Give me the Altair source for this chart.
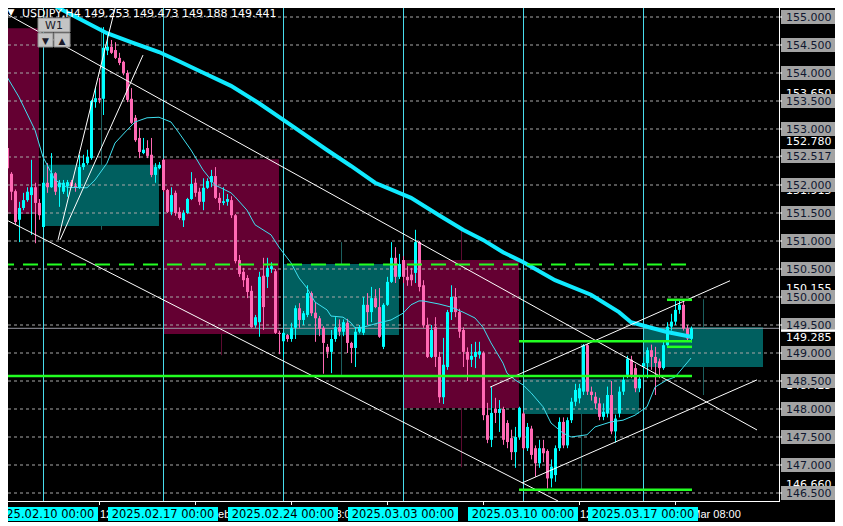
import altair as alt
import pandas as pd
import numpy as np

# ---------------- data (USDJPY H4) ----------------
bar_index = list(range(-10, 163))

open_ = [
    152.41, 152.66, 152.20, 151.89, 151.38, 151.59, 151.73, 151.82, 151.96, 151.68,   # -10..-1
    151.25, 152.04, 151.96, 152.21, 151.96, 151.88, 151.98, 152.05, 151.98, 151.96,   # 0..9
    152.32, 152.39, 152.48, 153.48, 153.55, 153.54, 154.40, 154.47, 154.41, 154.27,   # 10..19
    154.20, 154.00, 153.54, 153.20, 152.84, 152.57, 152.66, 152.54, 152.18, 152.30,   # 20..29
    152.45, 151.91, 151.52, 151.86, 151.52, 151.37, 151.50, 151.75, 152.04, 151.88,   # 30..39
    151.70, 151.95, 152.05, 152.16, 151.77, 151.68, 151.70, 151.73, 151.46, 150.66,   # 40..49
    150.45, 150.34, 150.11, 149.50, 149.55, 150.38, 150.36, 150.50, 150.46, 149.36,   # 50..59
    149.21, 149.32, 149.25, 149.45, 149.80, 149.59, 149.68, 150.07, 149.72, 149.62,   # 60..69
    149.45, 149.11, 149.02, 149.25, 149.46, 149.38, 149.54, 149.18, 149.09, 149.38,   # 70..79
    149.36, 149.86, 149.73, 149.98, 149.82, 149.11, 149.86, 150.27, 150.70, 150.36,   # 80..89
    150.66, 150.36, 150.40, 150.43, 150.98, 150.21, 149.50, 148.93, 149.46, 148.93,   # 90..99
    148.21, 148.75, 149.73, 150.00, 149.73, 149.41, 149.02, 148.88, 148.93, 148.97,   # 100..109
    149.00, 147.89, 147.45, 148.00, 147.93, 148.00, 147.75, 147.48, 147.23, 147.50,   # 110..119
    147.92, 147.30, 147.65, 147.30, 147.03, 147.30, 147.25, 146.76, 146.82, 147.30,   # 120..129
    147.77, 147.35, 147.80, 148.13, 148.19, 148.31, 149.14, 148.31, 148.22, 148.10,   # 130..139
    147.86, 147.92, 148.25, 147.60, 147.92, 148.31, 148.61, 148.88, 148.73, 148.37,   # 140..149
    148.76, 148.82, 149.05, 148.93, 148.85, 148.73, 149.14, 149.47, 149.56, 149.77,   # 150..159
    149.86, 149.44, 149.253,                                                           # 160..162
]
high = [
    152.89, 152.72, 152.23, 151.92, 151.70, 151.86, 151.96, 152.45, 152.04, 151.75,
    152.14, 152.39, 152.57, 152.23, 152.09, 152.09, 152.09, 152.09, 152.04, 152.54,
    152.54, 152.63, 153.52, 153.75, 153.91, 154.82, 154.68, 154.59, 154.55, 154.36,
    154.22, 154.05, 153.73, 153.25, 153.02, 152.84, 152.80, 152.84, 152.39, 152.41,
    152.47, 151.93, 151.96, 151.90, 151.60, 151.55, 151.77, 152.23, 152.12, 151.95,
    152.12, 152.12, 152.27, 152.32, 151.86, 151.96, 151.84, 151.80, 151.48, 150.75,
    150.52, 150.39, 150.20, 149.68, 150.45, 150.70, 150.70, 150.62, 150.50, 149.40,
    149.38, 149.34, 149.54, 149.85, 149.89, 149.75, 150.21, 150.10, 149.91, 149.66,
    149.48, 149.16, 149.41, 149.64, 149.60, 149.60, 149.61, 149.20, 149.46, 149.50,
    150.00, 150.07, 150.18, 150.14, 150.16, 149.89, 150.36, 150.98, 150.89, 150.77,
    150.73, 150.55, 150.52, 151.20, 151.00, 150.30, 149.63, 149.50, 149.64, 149.02,
    149.27, 149.77, 150.21, 150.16, 149.79, 149.46, 149.10, 149.16, 149.20, 149.20,
    149.03, 148.11, 148.39, 148.20, 148.16, 148.04, 147.80, 147.63, 147.68, 148.04,
    147.95, 147.75, 147.70, 147.35, 147.45, 147.45, 147.28, 147.10, 147.35, 147.85,
    147.85, 147.85, 148.20, 148.45, 148.45, 149.16, 149.16, 148.40, 148.30, 148.20,
    148.10, 148.40, 148.50, 147.90, 148.40, 148.60, 148.95, 148.95, 148.80, 148.60,
    148.93, 149.10, 149.15, 149.11, 148.90, 149.20, 149.55, 149.70, 149.93, 149.95,
    149.96, 149.50, 149.473,
]
low = [
    152.40, 152.25, 151.73, 151.29, 150.98, 151.55, 151.70, 151.11, 150.96, 151.38,
    151.23, 151.86, 151.95, 151.82, 151.61, 151.84, 151.79, 151.95, 151.88, 151.93,
    152.27, 152.36, 152.45, 153.38, 153.46, 153.25, 154.32, 154.34, 154.25, 154.14,
    153.96, 153.48, 153.09, 152.77, 152.48, 152.55, 152.48, 152.14, 152.04, 152.28,
    151.88, 151.50, 151.46, 151.45, 151.38, 151.25, 151.48, 151.73, 151.79, 151.64,
    151.55, 151.93, 151.96, 151.75, 151.55, 151.64, 151.63, 151.41, 150.60, 150.36,
    150.18, 149.98, 149.45, 149.45, 149.29, 149.41, 150.16, 150.43, 149.34, 148.98,
    148.93, 149.20, 149.20, 149.25, 149.45, 149.50, 149.64, 149.66, 149.20, 149.30,
    148.63, 148.91, 148.64, 149.20, 149.30, 149.30, 149.00, 148.82, 148.75, 149.35,
    149.32, 149.50, 149.55, 149.80, 149.27, 149.07, 149.84, 150.25, 150.25, 150.32,
    150.25, 150.20, 150.20, 150.25, 150.10, 149.45, 148.91, 148.91, 148.75, 148.11,
    148.09, 148.70, 149.59, 149.64, 149.27, 148.75, 148.50, 148.75, 148.73, 148.90,
    147.80, 147.39, 147.32, 147.75, 147.59, 147.36, 147.30, 147.09, 146.95, 147.45,
    147.27, 147.25, 147.10, 146.79, 146.95, 147.05, 146.58, 146.60, 146.70, 147.25,
    147.30, 147.30, 147.75, 148.05, 148.10, 148.25, 148.25, 148.15, 148.00, 147.80,
    147.80, 147.85, 147.55, 147.40, 147.85, 148.25, 148.55, 148.55, 148.30, 148.30,
    148.58, 148.55, 148.70, 148.25, 148.55, 148.70, 149.10, 149.40, 149.50, 149.70,
    149.40, 149.20, 149.188,
]
close = [
    152.68, 152.30, 151.88, 151.34, 151.59, 151.73, 151.88, 151.96, 151.68, 151.46,
    152.04, 151.96, 152.21, 151.88, 152.04, 152.04, 152.05, 151.98, 151.95, 152.32,
    152.39, 152.50, 153.50, 153.55, 153.52, 154.45, 154.47, 154.36, 154.27, 154.18,
    154.00, 153.52, 153.11, 152.80, 152.59, 152.63, 152.52, 152.18, 152.32, 152.36,
    151.91, 151.52, 151.82, 151.50, 151.41, 151.50, 151.75, 152.02, 151.86, 151.70,
    151.95, 152.07, 152.16, 151.77, 151.68, 151.71, 151.75, 151.46, 150.64, 150.41,
    150.30, 150.09, 149.46, 149.64, 150.36, 149.82, 150.52, 150.55, 149.36, 149.34,
    149.36, 149.25, 149.45, 149.80, 149.59, 149.71, 150.07, 149.71, 149.62, 149.43,
    149.18, 149.02, 149.25, 149.46, 149.38, 149.55, 149.18, 149.09, 149.38, 149.45,
    149.86, 149.73, 149.98, 149.82, 149.29, 149.86, 150.27, 150.70, 150.36, 150.59,
    150.36, 150.30, 150.30, 150.98, 150.18, 149.50, 148.93, 149.41, 148.93, 148.21,
    148.79, 149.73, 150.00, 149.73, 149.38, 149.02, 148.88, 148.95, 149.02, 149.03,
    147.89, 147.45, 147.93, 147.93, 148.00, 147.45, 147.41, 147.23, 147.50, 148.02,
    147.30, 147.68, 147.18, 147.03, 147.30, 147.21, 146.76, 146.97, 147.30, 147.77,
    147.35, 147.80, 148.13, 148.34, 148.37, 149.14, 148.31, 148.25, 148.10, 147.86,
    147.95, 148.25, 147.60, 147.83, 148.31, 148.52, 148.90, 148.61, 148.37, 148.54,
    148.82, 149.05, 148.93, 148.82, 148.73, 149.14, 149.47, 149.56, 149.77, 149.86,
    149.44, 149.26, 149.441,
]

# weekly (W1) candles drawn as boxes
week_start = [-30, 0, 30, 60, 90, 120, 150]
week_end = [-1, 29, 59, 89, 119, 149, 180]
week_open = [154.80, 151.27, 152.46, 149.32, 150.66, 147.91, 148.75]
week_close = [151.48, 152.36, 149.34, 150.59, 148.02, 148.54, 149.46]
week_high = [154.90, 154.82, 152.47, 150.98, 151.20, 149.16, 149.96]
week_low = [150.96, 151.20, 148.96, 148.61, 146.96, 146.56, 148.25]

# moving averages
ma_slow_index = [-3, 1, 16, 22, 29, 34, 39, 47, 54, 62, 71, 77, 83, 92, 99, 105, 110,
                 115, 120, 128, 137, 144, 147, 152, 156, 162]
ma_slow_value = [155.45, 155.27, 154.71, 154.55, 154.375, 154.21, 154.04, 153.77, 153.46,
                 153.07, 152.625, 152.34, 152.04, 151.77, 151.46, 151.20, 151.02, 150.80,
                 150.625, 150.30, 150.04, 149.73, 149.55, 149.45, 149.375, 149.29]
ma_fast_index = [-10, -6, -2, 0, 3, 6, 11, 13, 16, 18, 21, 23, 26, 29, 32, 34, 37, 40, 43,
                 47, 48, 51, 53, 57, 59, 62, 64, 66, 68, 71, 72, 75, 77, 78, 80, 84, 87, 90,
                 92, 94, 95, 99, 102, 105, 108, 110, 112, 115, 116, 118, 120, 122, 125, 127,
                 130, 132, 136, 138, 142, 145, 148, 151, 153, 156, 158, 162]
ma_fast_value = [154.05, 153.57, 152.98, 152.50, 152.09, 151.96, 151.95, 152.09, 152.39,
                 152.75, 152.98, 153.125, 153.20, 153.21, 153.125, 152.93, 152.625, 152.27,
                 152.00, 151.86, 151.79, 151.55, 151.29, 151.11, 150.89, 150.61, 150.34,
                 150.16, 149.91, 149.77, 149.66, 149.64, 149.54, 149.45, 149.46, 149.54,
                 149.59, 149.71, 149.86, 149.93, 149.93, 149.875, 149.82, 149.73, 149.625,
                 149.46, 149.18, 148.82, 148.64, 148.52, 148.43, 148.29, 148.04, 147.75,
                 147.57, 147.50, 147.54, 147.68, 147.77, 147.80, 147.89, 148.04, 148.39,
                 148.52, 148.57, 148.91]

# trend lines (bar index, price) -> (bar index, price)
trend_i1 = [-12, -12, 119.75, 111.75, 3.75, 4.25]
trend_p1 = [155.17, 151.48, 146.68, 148.39, 151.02, 151.02]
trend_i2 = [178.5, 128.75, 178.5, 171.75, 18.5, 25.0]
trend_p2 = [147.625, 146.357, 148.52, 150.29, 155.30, 154.32]

# horizontal levels
level_price = [150.58, 148.59, 149.21, 146.56, 149.95, 149.11]
level_from = [-11, -11, 119, 119, 156, 156]
level_to = [162.25, 162.25, 162.25, 162.25, 162.25, 162.25]
level_dashed = [True, False, False, False, False, False]

bid_price = 149.441
grid_prices = [155.0, 154.5, 154.0, 153.5, 153.0, 152.5, 152.0, 151.5, 151.0, 150.5,
               150.0, 149.5, 149.0, 148.5, 148.0, 147.5, 147.0, 146.5]
box_label_prices = [155.0, 154.5, 154.0, 153.5, 153.0, 152.517, 152.0, 151.5, 151.0, 150.5,
                    150.0, 149.5, 149.0, 148.5, 148.0, 147.5, 147.0, 146.5]
white_label_prices = [153.650, 152.780, 151.915, 150.155, 149.285, 148.425, 146.660]

sep_index = [0, 30, 60, 90, 120, 150]
sep_labels = ["2025.02.10 00:00", "2025.02.17 00:00", "2025.02.24 00:00",
              "2025.03.03 00:00", "2025.03.10 00:00", "2025.03.17 00:00"]
time_index = [14, 38, 62, 86, 110, 134, 158]
time_labels = ["12 Feb 08:00", "18 Feb 08:00", "24 Feb 08:00", "28 Feb 08:00",
               "6 Mar 08:00", "12 Mar 08:00", "18 Mar 08:00"]

title_text = "USDJPY,H4  149.253 149.473 149.188 149.441"

assert len(open_) == len(high) == len(low) == len(close) == len(bar_index)

# ---------------- styling ----------------
CYAN = "#00ffff"
PINK = "#ff69b4"
TEAL_BOX = "#005f5f"
MAG_BOX = "#640032"
TEAL_WICK = "#1b5e5e"
MAG_WICK = "#5c0a30"
SEP = "#48dcec"
GRID = "#a8a8a8"
GREEN = "#22ff22"
FONT = "DejaVu Sans"
FONT_NARROW = "Liberation Sans"

W, H = 771, 493
XS = alt.Scale(domain=[-8.75, 184], nice=False, zero=False)
YS = alt.Scale(domain=[146.357142857, 155.160714286], nice=False, zero=False)


def X(f):
    return alt.X(f, type="quantitative", scale=XS, axis=None)


def Y(f):
    return alt.Y(f, type="quantitative", scale=YS, axis=None)


candles = pd.DataFrame({"i": bar_index, "o": open_, "h": high, "l": low, "c": close})
candles["up"] = candles["c"] >= candles["o"]
candles["xa"] = candles["i"] - 0.375
candles["xb"] = candles["i"] + 0.375

weeks = pd.DataFrame({"s": week_start, "e": week_end, "o": week_open, "c": week_close,
                      "h": week_high, "l": week_low})
weeks["up"] = weeks["c"] >= weeks["o"]
weeks["mid"] = (weeks["s"] + weeks["e"]) / 2

layers = []

# weekly wicks + bodies
for up, wick_col, box_col in [(True, TEAL_WICK, TEAL_BOX), (False, MAG_WICK, MAG_BOX)]:
    part = weeks[weeks["up"] == up]
    layers.append(alt.Chart(part).mark_rule(strokeWidth=1, xOffset=0.5, clip=True, color=wick_col).encode(
        x=X("mid"), y=Y("l"), y2=alt.Y2("h")))
    layers.append(alt.Chart(part).mark_rect(clip=True, color=box_col).encode(
        x=X("s"), x2=alt.X2("e"), y=Y("o"), y2=alt.Y2("c")))

# grid
grid_df = pd.DataFrame({"p": grid_prices})
layers.append(alt.Chart(grid_df).mark_rule(color=GRID, strokeWidth=1, strokeDash=[3, 3]).encode(
    x=alt.value(0), x2=alt.value(W), y=Y("p")))

# bid line
layers.append(alt.Chart(pd.DataFrame({"p": [bid_price]})).mark_rule(color="#9a9aa6", strokeWidth=1).encode(
    x=alt.value(0), x2=alt.value(W), y=Y("p")))

# period separators
sep_df = pd.DataFrame({"i": sep_index, "t": sep_labels})
layers.append(alt.Chart(sep_df).mark_rule(color=SEP, strokeWidth=1, xOffset=0.5).encode(
    x=X("i"), y=alt.value(0), y2=alt.value(H)))

# candles
for up, col in [(True, CYAN), (False, PINK)]:
    part = candles[candles["up"] == up]
    layers.append(alt.Chart(part).mark_rule(strokeWidth=1, xOffset=0.5, clip=True, color=col).encode(
        x=X("i"), y=Y("l"), y2=alt.Y2("h")))
    layers.append(alt.Chart(part).mark_rect(xOffset=0.5, x2Offset=0.5, clip=True, color=col).encode(
        x=X("xa"), x2=alt.X2("xb"), y=Y("o"), y2=alt.Y2("c")))

# moving averages
fast_df = pd.DataFrame({"i": ma_fast_index, "v": ma_fast_value})
slow_df = pd.DataFrame({"i": ma_slow_index, "v": ma_slow_value})
layers.append(alt.Chart(fast_df).mark_line(color="#3fe0f0", strokeWidth=1, clip=True).encode(
    x=X("i"), y=Y("v")))
layers.append(alt.Chart(slow_df).mark_line(color="#10eaff", strokeWidth=4, clip=True).encode(
    x=X("i"), y=Y("v")))

# trend lines
trend_df = pd.DataFrame({"i1": trend_i1, "p1": trend_p1, "i2": trend_i2, "p2": trend_p2})
layers.append(alt.Chart(trend_df).mark_rule(color="#ffffff", strokeWidth=1, clip=True).encode(
    x=X("i1"), y=Y("p1"), x2=alt.X2("i2"), y2=alt.Y2("p2")))

# horizontal levels
lev_df = pd.DataFrame({"p": level_price, "a": level_from, "b": level_to, "dashed": level_dashed})
layers.append(alt.Chart(lev_df[lev_df["dashed"]]).mark_rule(color=GREEN, strokeWidth=2, strokeDash=[15, 9], clip=True).encode(
    x=X("a"), x2=alt.X2("b"), y=Y("p")))
layers.append(alt.Chart(lev_df[~lev_df["dashed"]]).mark_rule(color=GREEN, strokeWidth=2.5, clip=True).encode(
    x=X("a"), x2=alt.X2("b"), y=Y("p")))

# frame
frame_df = pd.DataFrame({"k": [0]})
layers.append(alt.Chart(frame_df).mark_rule(color="#ffffff", strokeWidth=1).encode(
    x=alt.value(W + 0.5), y=alt.value(-10), y2=alt.value(H + 1)))
layers.append(alt.Chart(frame_df).mark_rule(color="#ffffff", strokeWidth=1).encode(
    x=alt.value(-10), x2=alt.value(W + 1), y=alt.value(H + 0.5)))

# right price axis
white_df = pd.DataFrame({"p": white_label_prices, "t": [f"{p:.3f}" for p in white_label_prices]})
layers.append(alt.Chart(white_df).mark_text(align="left", baseline="middle", font=FONT, fontSize=11,
                                            color="#ffffff", dy=1).encode(
    x=alt.value(778), y=Y("p"), text="t:N"))
box_df = pd.DataFrame({"p": box_label_prices, "t": [f"{p:.3f}" for p in box_label_prices]})
layers.append(alt.Chart(box_df).mark_rect(color="#a3a3a3", yOffset=-7, y2Offset=7).encode(
    x=alt.value(773), x2=alt.value(829), y=Y("p"), y2=alt.Y2("p")))
layers.append(alt.Chart(box_df).mark_text(align="left", baseline="middle", font=FONT, fontSize=11,
                                          color="#101830", dy=1).encode(
    x=alt.value(778), y=Y("p"), text="t:N"))
layers.append(alt.Chart(pd.DataFrame({"p": [149.40]})).mark_rule(color="#ffffff", strokeWidth=2).encode(
    x=alt.value(773), x2=alt.value(829), y=Y("p")))
layers.append(alt.Chart(box_df).mark_rule(color="#ffffff", strokeWidth=1).encode(
    x=alt.value(W), x2=alt.value(W + 3), y=Y("p")))

# bottom time axis
time_df = pd.DataFrame({"i": time_index, "t": time_labels})
layers.append(alt.Chart(time_df).mark_rule(color="#ffffff", strokeWidth=1, xOffset=0.5).encode(
    x=X("i"), y=alt.value(H), y2=alt.value(H + 4)))
layers.append(alt.Chart(time_df).mark_text(align="left", baseline="middle", font=FONT_NARROW, fontSize=11,
                                           color="#ffffff", dx=1, dy=1).encode(
    x=X("i"), y=alt.value(506), text="t:N"))
sep_df["a"] = sep_df["i"] - 13.75
sep_df["b"] = sep_df["i"] + 13.75
layers.append(alt.Chart(sep_df).mark_rect(color="#00ffff").encode(
    x=X("a"), x2=alt.X2("b"), y=alt.value(499), y2=alt.value(513)))
layers.append(alt.Chart(sep_df).mark_text(align="center", baseline="middle", font=FONT, fontSize=11.5,
                                          color="#000000", dy=1).encode(
    x=X("i"), y=alt.value(506), text="t:N"))

# title and period widget
title_df = pd.DataFrame({"t": [title_text]})
layers.append(alt.Chart(title_df).mark_text(align="left", baseline="alphabetic", font=FONT, fontSize=11,
                                            color="#ffffff").encode(
    x=alt.value(14), y=alt.value(9), text="t:N"))
layers.append(alt.Chart(title_df).mark_text(align="center", baseline="middle", font=FONT, fontSize=9,
                                            color="#ffffff").encode(
    x=alt.value(3), y=alt.value(4), text=alt.value("\u25bc")))
widget_df = pd.DataFrame({"x1": [30, 30, 46], "x2": [62, 45, 62], "y1": [10, 25, 25], "y2": [24, 39, 39],
                          "t": ["W1", "\u25bc", "\u25b2"], "xc": [46, 37.5, 54], "yc": [17.5, 32.5, 32.5]})
for _, r in widget_df.iterrows():
    one = pd.DataFrame([r])
    layers.append(alt.Chart(one).mark_rect(color="#c4c4c4", stroke="#8c8c8c", strokeWidth=1).encode(
        x=alt.value(float(r["x1"])), x2=alt.value(float(r["x2"])),
        y=alt.value(float(r["y1"])), y2=alt.value(float(r["y2"]))))
    layers.append(alt.Chart(one).mark_text(align="center", baseline="middle", font=FONT,
                                           fontSize=11 if r["t"] == "W1" else 9, color="#1a1a2a").encode(
        x=alt.value(float(r["xc"])), y=alt.value(float(r["yc"])), text="t:N"))

chart = alt.layer(*layers).properties(
    width=W, height=H,
    padding={"left": 0, "top": 0, "right": 56, "bottom": 21},
    autosize=alt.AutoSizeParams(type="none"),
    background="#000000",
).configure_view(stroke=None, fill="#000000")

chart.save("out.html", embed_options={"renderer": "svg", "actions": False})
